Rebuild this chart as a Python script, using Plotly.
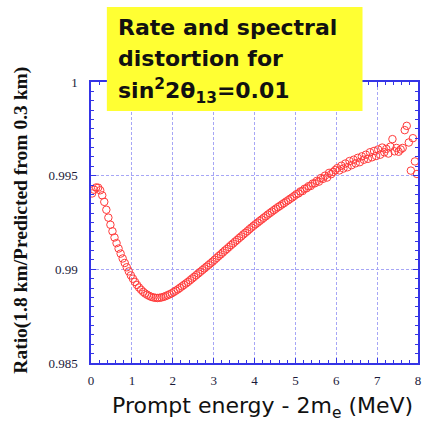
import plotly.graph_objects as go

# Prompt energy bin centres (MeV), 0.05 MeV bins
energy = [round(0.025 + 0.05 * i, 3) for i in range(160)]

ratio = [
    0.99405, 0.99425, 0.99437, 0.99436, 0.99422, 0.99395, 0.99360, 0.99318, 0.99276, 0.99238,
    0.99203, 0.99170, 0.99140, 0.99111, 0.99084, 0.99058, 0.99034, 0.99011, 0.98989, 0.98968,
    0.98950, 0.98933, 0.98917, 0.98903, 0.98891, 0.98880, 0.98871, 0.98864, 0.98858, 0.98853,
    0.98850, 0.98848, 0.98847, 0.98848, 0.98850, 0.98853, 0.98857, 0.98862, 0.98867, 0.98872,
    0.98879, 0.98886, 0.98893, 0.98901, 0.98909, 0.98917, 0.98925, 0.98933, 0.98942, 0.98951,
    0.98960, 0.98969, 0.98978, 0.98987, 0.98996, 0.99005, 0.99014, 0.99023, 0.99032, 0.99041,
    0.99051, 0.99061, 0.99071, 0.99080, 0.99090, 0.99100, 0.99109, 0.99119, 0.99129, 0.99138,
    0.99148, 0.99157, 0.99167, 0.99176, 0.99186, 0.99195, 0.99204, 0.99214, 0.99223, 0.99232,
    0.99241, 0.99249, 0.99258, 0.99266, 0.99275, 0.99283, 0.99292, 0.99300, 0.99308, 0.99316,
    0.99324, 0.99332, 0.99339, 0.99347, 0.99354, 0.99362, 0.99369, 0.99377, 0.99384, 0.99392,
    0.99401, 0.99405, 0.99416, 0.99418, 0.99430, 0.99433, 0.99444, 0.99445, 0.99458, 0.99459,
    0.99472, 0.99468, 0.99487, 0.99483, 0.99500, 0.99490, 0.99515, 0.99508, 0.99520, 0.99530,
    0.99540, 0.99528, 0.99553, 0.99538, 0.99565, 0.99545, 0.99578, 0.99556, 0.99585, 0.99566,
    0.99595, 0.99572, 0.99603, 0.99585, 0.99612, 0.99590, 0.99625, 0.99598, 0.99632, 0.99605,
    0.99640, 0.99612, 0.99650, 0.99625, 0.99643, 0.99618, 0.99655, 0.99695, 0.99630, 0.99648,
    0.99628, 0.99640, 0.99648, 0.99743, 0.99766, 0.99677, 0.99527, 0.99700, 0.99576, 0.99509,
]

x_ticks = [0, 1, 2, 3, 4, 5, 6, 7, 8]
x_ticktext = ["0", "1", "2", "3", "4", "5", "6", "7", "8"]
y_ticks = [0.985, 0.99, 0.995, 1.0]
y_ticktext = ["0.985", "0.99", "0.995", "1"]

box_lines = ["Rate and spectral", "distortion for", "sin<sup>2</sup>2θ<sub>13</sub>=0.01"]

W, H = 425, 421
L, R, T, B = 91, 4, 82, 58
pw, ph = W - L - R, H - T - B


def px(x):
    return (x - L) / pw


def py(y):
    return (H - B - y) / ph


AX = "#3434e6"
GRID = "#a6a6f6"
TICKFONT = dict(family="Liberation Serif", size=13, color="#1a1a3a")

fig = go.Figure()
fig.add_trace(go.Scatter(
    x=energy, y=ratio, mode="markers",
    marker=dict(symbol="circle-open", size=7.5, color="#ff3b3b", line=dict(width=1, color="#ff3b3b")),
    showlegend=False, hoverinfo="skip",
))

axis_common = dict(
    showline=True, linecolor=AX, linewidth=1.5, mirror="ticks",
    ticks="inside", tickcolor=AX, ticklen=5, tickwidth=1,
    showgrid=True, gridcolor=GRID, gridwidth=1.3, griddash="3px,2px",
    zeroline=False, tickfont=TICKFONT,
)

fig.update_xaxes(
    range=[0, 8], tickmode="array", tickvals=x_ticks, ticktext=x_ticktext,
    minor=dict(dtick=0.2, ticks="inside", ticklen=3, tickcolor=AX, showgrid=False),
    ticklabelstandoff=5,
    **axis_common,
)
fig.update_yaxes(
    range=[0.985, 1.0], tickmode="array", tickvals=y_ticks, ticktext=y_ticktext,
    minor=dict(dtick=0.0005, ticks="inside", ticklen=3, tickcolor=AX, showgrid=False),
    ticklabelstandoff=9,
    **axis_common,
)

# yellow label box
fig.add_shape(type="rect", xref="paper", yref="paper",
              x0=px(107), x1=px(365), y0=py(111), y1=py(7),
              fillcolor="#ffff33", line=dict(width=0), layer="above")

for line, yc in zip(box_lines, [28, 59, 91]):
    fig.add_annotation(
        xref="paper", yref="paper", x=px(116), y=py(yc), xanchor="left", yanchor="middle",
        text=line, showarrow=False, align="left",
        font=dict(family="DejaVu Sans", size=22, color="#111111", weight="bold"),
    )

# axis titles
fig.add_annotation(
    xref="paper", yref="paper", x=px(264), y=py(407), xanchor="center", yanchor="middle",
    text="Prompt energy - 2m<sub>e</sub> (MeV)", showarrow=False,
    font=dict(family="DejaVu Sans", size=22, color="#111111"),
)
fig.add_annotation(
    xref="paper", yref="paper", x=px(20), y=py(220), xanchor="center", yanchor="middle",
    text="<b>Ratio(1.8 km/Predicted from 0.3 km)</b>", showarrow=False, textangle=-90,
    font=dict(family="Liberation Serif", size=19.5, color="#111111"),
)

fig.update_layout(
    width=W, height=H, margin=dict(l=L, r=R, t=T, b=B),
    paper_bgcolor="white", plot_bgcolor="white",
)

fig.write_html("out.html")
